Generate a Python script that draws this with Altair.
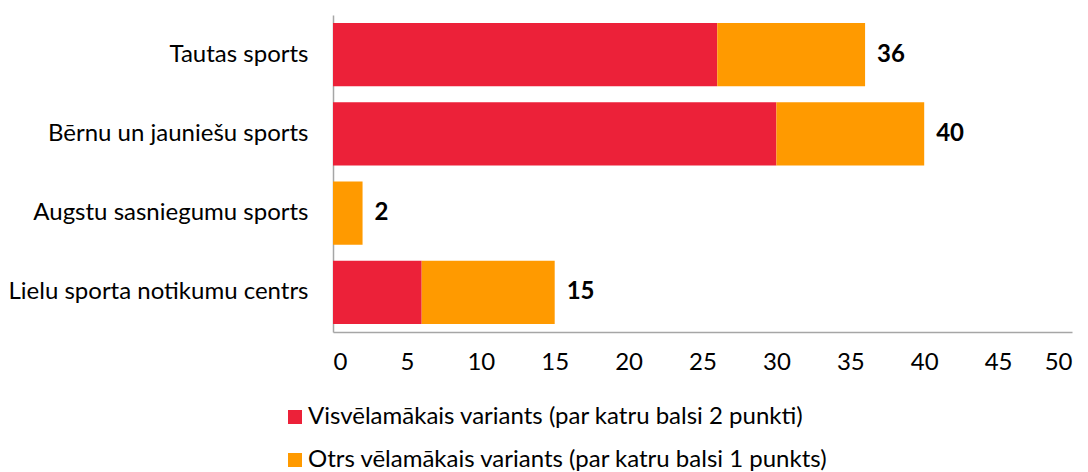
import altair as alt
import pandas as pd

categories = ["Tautas sports", "Bērnu un jauniešu sports", "Augstu sasniegumu sports", "Lielu sporta notikumu centrs"]
series_names = ["Visvēlamākais variants (par katru balsi 2 punkti)", "Otrs vēlamākais variants (par katru balsi 1 punkts)"]
first_choice = [26, 30, 0, 6]
second_choice = [10, 10, 2, 9]
totals = [36, 40, 2, 15]
colors = ["#EC2139", "#FF9A00"]
x_ticks = [0, 5, 10, 15, 20, 25, 30, 35, 40, 45, 50]

FONT = "Lato"
FS = 24

rows = []
for c, a, b in zip(categories, first_choice, second_choice):
    rows.append({"cat": c, "series": series_names[0], "order": 0, "value": a})
    rows.append({"cat": c, "series": series_names[1], "order": 1, "value": b})
df = pd.DataFrame(rows)
tot = pd.DataFrame({"cat": categories, "total": totals})

y_enc = alt.Y("cat:N", sort=categories,
              scale=alt.Scale(paddingInner=0.2, paddingOuter=0.1),
              axis=alt.Axis(title=None, ticks=False, labelFontSize=FS, labelFont=FONT,
                            labelColor="#000000", labelPadding=25, labelLimit=600,
                            domainColor="#A6A6A6", domainWidth=1.5))

bars = alt.Chart(df).mark_bar().encode(
    x=alt.X("value:Q", stack="zero",
            scale=alt.Scale(domain=[0, 50], nice=False),
            axis=alt.Axis(title=None, values=x_ticks, ticks=False, grid=False,
                          labelFontSize=FS, labelFont=FONT, labelColor="#000000",
                          labelPadding=18, domainColor="#A6A6A6", domainWidth=1.5)),
    y=y_enc,
    color=alt.Color("series:N", sort=series_names,
                    scale=alt.Scale(domain=series_names, range=colors),
                    legend=alt.Legend(title=None, orient="none", legendX=-50, legendY=390,
                                      direction="vertical", symbolType="square",
                                      symbolSize=196, symbolStrokeWidth=0,
                                      labelFontSize=FS, labelFont=FONT, labelColor="#000000",
                                      rowPadding=19, labelOffset=1, labelLimit=900)),
    order=alt.Order("order:Q"),
)

labels = alt.Chart(tot).mark_text(align="left", baseline="middle", dx=12,
                                   fontSize=FS, fontWeight="bold", font=FONT,
                                   color="#000000").encode(
    x=alt.X("total:Q"),
    y=alt.Y("cat:N", sort=categories),
    text=alt.Text("total:Q"),
)

chart = alt.layer(bars, labels).properties(
    width=739, height=317,
    autosize=alt.AutoSizeParams(type="none"),
    padding={"left": 325, "top": 7, "right": 8, "bottom": 140},
).configure_view(stroke=None).configure_axis(grid=False)

chart.save("out.html", embed_options={"renderer": "svg", "actions": False})
